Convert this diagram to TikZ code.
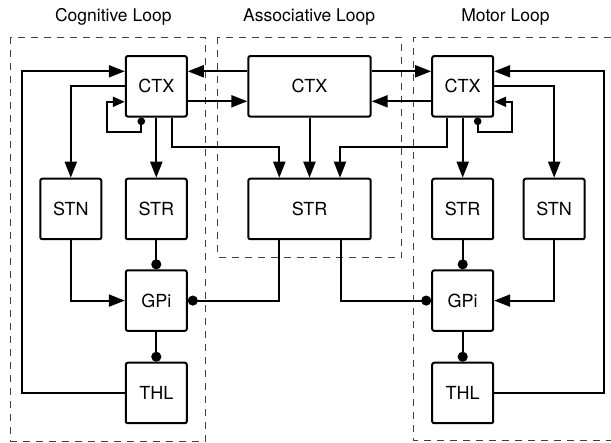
\documentclass[tikz,border=0pt]{standalone}
\usepackage{fontspec}
\setmainfont{TeX Gyre Heros}
\usetikzlibrary{arrows.meta}

\begin{document}
\begin{tikzpicture}[x=1pt, y=-1pt,
    box/.style={draw, line width=2pt, rounded corners=2pt,
        minimum width=61pt, minimum height=60.5pt,
        font=\fontsize{18}{21}\selectfont},
    looptitle/.style={anchor=base, inner sep=0pt,
        font=\fontsize{17.5}{20}\selectfont},
    frame/.style={black!75, line width=0.9pt, dash pattern=on 7pt off 6pt},
    exc/.style={line width=2pt, -{Triangle[length=16pt, width=12pt]}},
    inh/.style={line width=2pt, -{Circle[length=10pt]}},
    selfloop/.style={line width=2pt,
        arrows={Circle[length=7.5pt]-Triangle[length=12pt, width=10pt]}}]

    % パラメータの定義
    \pgfmathsetmacro{\rowA}{86.3}
    \pgfmathsetmacro{\rowB}{209}
    \pgfmathsetmacro{\rowC}{300.6}
    \pgfmathsetmacro{\rowD}{393}
    \pgfmathsetmacro{\colL}{156.3}
    \pgfmathsetmacro{\colM}{309.5}
    \pgfmathsetmacro{\colR}{462.7}

    \useasboundingbox (0,0) rectangle (611,443);

    % 枠の描画
    \draw [frame] (10,37.5) rectangle (205.5,441);
    \draw [frame] (217.8,37.5) rectangle (401.5,257.8);
    \draw [frame] (611,37.5) -| (413.6,440.7) -- (611,440.7);

    % 見出し
    \node [looptitle] (tCog) at (113.3,21.7) {Cognitive Loop};
    \node [looptitle] (tAss) at (309.2,21.7) {Associative Loop};
    \node [looptitle] (tMot) at (505.5,21.7) {Motor Loop};

    % 点の定義
    \coordinate (cOut) at (22.3,0);
    \coordinate (mOut) at (603.5,0);
    \coordinate (cSelf) at (106.9,132);
    \coordinate (mSelf) at (511.7,132);

    % ノードの配置
    \node [box] (cCTX) at (\colL,\rowA) {CTX};
    \node [box] (cSTN) at (70.8,\rowB) {STN};
    \node [box] (cSTR) at (\colL,\rowB) {STR};
    \node [box] (cGPi) at (\colL,\rowC) {GPi};
    \node [box] (cTHL) at (\colL,\rowD) {THL};

    \node [box, minimum width=122.4pt] (aCTX) at (\colM,\rowA) {CTX};
    \node [box, minimum width=122.4pt] (aSTR) at (\colM,\rowB) {STR};

    \node [box] (mCTX) at (\colR,\rowA) {CTX};
    \node [box] (mSTR) at (\colR,\rowB) {STR};
    \node [box] (mSTN) at (554.2,\rowB) {STN};
    \node [box] (mGPi) at (\colR,\rowC) {GPi};
    \node [box] (mTHL) at (\colR,\rowD) {THL};

    % 左ループの接続
    \draw [exc] (cTHL.west) -- (cTHL.west -| cOut) |- ([yshift=15pt]cCTX.west);
    \draw [exc] (cCTX.west) -| (cSTN.north);
    \draw [exc] (cCTX.south) -- (cSTR.north);
    \draw [selfloop] ([xshift=-15pt]cCTX.south) |- (cSelf) |- ([yshift=-15.5pt]cCTX.west);
    \draw [exc] ([xshift=15.4pt]cCTX.south) -- ++(0,29) -| ([xshift=-30.2pt]aSTR.north);
    \draw [exc] (cSTN.south) |- (cGPi.west);
    \draw [inh] (cSTR.south) -- (cGPi.north);
    \draw [inh] (cGPi.south) -- (cTHL.north);

    % 中央ループの接続
    \draw [exc] ([yshift=15pt]aCTX.west) -- ([yshift=15pt]cCTX.east);
    \draw [exc] ([yshift=-15pt]cCTX.east) -- ([yshift=-15pt]aCTX.west);
    \draw [exc] ([yshift=15pt]aCTX.east) -- ([yshift=15pt]mCTX.west);
    \draw [exc] ([yshift=-15pt]mCTX.west) -- ([yshift=-15pt]aCTX.east);
    \draw [exc] (aCTX.south) -- (aSTR.north);
    \draw [inh] ([xshift=-31pt]aSTR.south) |- (cGPi.east);
    \draw [inh] ([xshift=31pt]aSTR.south) |- (mGPi.west);

    % 右ループの接続
    \draw [exc] (mTHL.east) -- (mTHL.east -| mOut) |- ([yshift=15pt]mCTX.east);
    \draw [exc] (mCTX.east) -| (mSTN.north);
    \draw [exc] (mCTX.south) -- (mSTR.north);
    \draw [selfloop] ([xshift=15pt]mCTX.south) |- (mSelf) |- ([yshift=-15.5pt]mCTX.east);
    \draw [exc] ([xshift=-15.4pt]mCTX.south) -- ++(0,29) -| ([xshift=30.5pt]aSTR.north);
    \draw [exc] (mSTN.south) |- (mGPi.east);
    \draw [inh] (mSTR.south) -- (mGPi.north);
    \draw [inh] (mGPi.south) -- (mTHL.north);

\end{tikzpicture}
\end{document}
